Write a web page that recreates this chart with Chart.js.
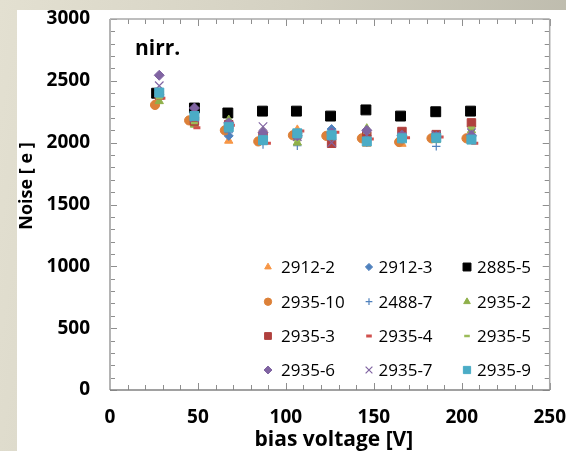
<!DOCTYPE html>
<html>
<head>
<meta charset="utf-8">
<title>Noise vs bias voltage</title>
<script src="https://cdn.jsdelivr.net/npm/chart.js@4.4.1/dist/chart.umd.min.js"></script>
<style>
  html, body { margin: 0; padding: 0; }
  body {
    width: 566px; height: 451px; overflow: hidden; position: relative;
    background: linear-gradient(100deg, #e3e0d1 0%, #d4d1c2 45%, #b9b7a9 100%);
  }
  .panel { position: absolute; left: 17px; top: 10px; width: 549px; height: 441px; background: #fff; }
</style>
</head>
<body>
<div class="panel"><canvas id="noiseChart" width="549" height="441"></canvas></div>
<script>
// sample names, in legend order
const sampleNames = ['2912-2', '2912-3', '2885-5', '2935-10', '2488-7', '2935-2',
                     '2935-3', '2935-4', '2935-5', '2935-6', '2935-7', '2935-9'];

// bias voltage [V]
const biasVoltage   = [28, 48, 67.5, 87, 106.5, 126, 146, 166, 185.5, 205.5];
const bias_2885_5   = [26.5, 48, 67, 86.7, 106, 125.4, 145.5, 165.2, 185.2, 205];
const bias_2935_10  = [25.6, 45, 65.3, 84.3, 104, 123, 143.2, 164.4, 182.8, 202.7];
const bias_2935_4   = [29.5, 49.4, 69, 89.5, 108.5, 128.4, 148, 168.6, 187.7, 207.4];

// noise [e]
const noise_2912_2  = [2385, 2150, 2015, 2005, 2105, 2060, 1990, 1990, 2030, 2045];
const noise_2912_3  = [2390, 2200, 2055, 2045, 2075, 2110, 2060, 2040, 2045, 2050];
const noise_2885_5  = [2400, 2280, 2240, 2255, 2255, 2215, 2265, 2215, 2250, 2255];
const noise_2935_10 = [2305, 2180, 2100, 2010, 2060, 2055, 2035, 2005, 2035, 2035];
const noise_2488_7  = [2390, 2190, 2080, 1985, 1975, 2040, 2000, 2030, 1970, 2040];
const noise_2935_2  = [2335, 2145, 2185, 2090, 2000, 2050, 2115, 2030, 2020, 2100];
const noise_2935_3  = [2385, 2175, 2145, 2055, 2070, 1995, 2055, 2090, 2065, 2160];
const noise_2935_4  = [2360, 2120, 2140, 1995, 2095, 2085, 2030, 2040, 2045, 1995];
const noise_2935_5  = [2360, 2160, 2160, 2060, 2020, 2040, 2080, 2030, 2020, 2120];
const noise_2935_6  = [2545, 2280, 2160, 2080, 2055, 2080, 2100, 2060, 2050, 2060];
const noise_2935_7  = [2460, 2200, 2120, 2130, 2050, 2000, 2060, 2050, 2060, 2080];
const noise_2935_9  = [2405, 2215, 2125, 2020, 2075, 2060, 2010, 2035, 2040, 2025];

const seriesX = [biasVoltage, biasVoltage, bias_2885_5, bias_2935_10, biasVoltage, biasVoltage,
                 biasVoltage, bias_2935_4, biasVoltage, biasVoltage, biasVoltage, biasVoltage];
const seriesY = [noise_2912_2, noise_2912_3, noise_2885_5, noise_2935_10, noise_2488_7, noise_2935_2,
                 noise_2935_3, noise_2935_4, noise_2935_5, noise_2935_6, noise_2935_7, noise_2935_9];

// axis ticks
const xTickLabels = [0, 50, 100, 150, 200, 250];
const yTickLabels = [0, 500, 1000, 1500, 2000, 2500, 3000];

// marker look per series
const markers = [
  { style: 'triangle', color: '#f79646', r: 4.8, bw: 1 },
  { style: 'rectRot',  color: '#4f81bd', r: 4.5, bw: 1 },
  { style: 'rect',     color: '#000000', r: 7,   bw: 1 },
  { style: 'circle',   color: '#dc8038', r: 4.6, bw: 1 },
  { style: 'cross',    color: '#4f81bd', r: 4.2, bw: 1.2 },
  { style: 'triangle', color: '#8fb04a', r: 4.8, bw: 1 },
  { style: 'rect',     color: '#b0403e', r: 6,   bw: 1 },
  { style: 'line',     color: '#d0504d', r: 3.5, bw: 3 },
  { style: 'line',     color: '#9bbb59', r: 3.5, bw: 2.5 },
  { style: 'rectRot',  color: '#8064a2', r: 5,   bw: 1 },
  { style: 'crossRot', color: '#8064a2', r: 6,   bw: 1.2 },
  { style: 'rect',     color: '#4bacc6', r: 6.4, bw: 1 }
];

const FONT = '"Open Sans", "DejaVu Sans", sans-serif';

const datasets = sampleNames.map((name, i) => ({
  label: name,
  data: seriesX[i].map((v, k) => ({ x: v, y: seriesY[i][k] })),
  showLine: false,
  pointStyle: markers[i].style,
  pointRadius: markers[i].r,
  pointBorderWidth: markers[i].bw,
  backgroundColor: markers[i].color,
  borderColor: markers[i].color,
  order: sampleNames.length - i   // later series on top
}));

// box frame with inward tick marks on all four sides
const frameTicks = {
  id: 'frameTicks',
  beforeDatasetsDraw(chart) {
    const { ctx, chartArea: a, scales: { x, y } } = chart;
    const seg = (x1, y1, x2, y2) => { ctx.beginPath(); ctx.moveTo(x1, y1); ctx.lineTo(x2, y2); ctx.stroke(); };
    ctx.save();
    ctx.lineWidth = 1;
    ctx.strokeStyle = '#8e8e8e';
    for (let v = 0; v <= 250; v += 10) {
      const px = Math.round(x.getPixelForValue(v)) + 0.5;
      const len = v % 50 === 0 ? 7 : 5;
      seg(px, a.bottom, px, a.bottom - len);
      seg(px, a.top, px, a.top + len);
    }
    for (let v = 0; v <= 3000; v += 100) {
      const py = Math.round(y.getPixelForValue(v)) + 0.5;
      const len = v % 500 === 0 ? 7 : 5;
      seg(a.left, py, a.left + len, py);
      seg(a.right, py, a.right - len, py);
    }
    // frame lines
    ctx.strokeStyle = '#a8a8a8';
    ctx.lineWidth = 1.5;
    seg(a.left, a.top, a.right, a.top);
    seg(a.right, a.top, a.right, a.bottom);
    ctx.strokeStyle = '#b4b4b4';
    ctx.lineWidth = 2;
    seg(a.left, a.top, a.left, a.bottom);
    ctx.strokeStyle = '#828282';
    ctx.lineWidth = 1.3;
    seg(a.left, a.bottom, a.right, a.bottom);
    ctx.restore();
  }
};

// axis titles and the "nirr." note
const annotations = {
  id: 'annotations',
  afterDraw(chart) {
    const { ctx, chartArea: a } = chart;
    ctx.save();
    ctx.fillStyle = '#000';
    ctx.font = 'bold 21px ' + FONT;
    ctx.textAlign = 'left';
    ctx.textBaseline = 'alphabetic';
    ctx.fillText('nirr.', a.left + 25, a.top + 36);

    ctx.font = 'bold 21px ' + FONT;
    ctx.textAlign = 'center';
    ctx.fillText('bias voltage [V]', (a.left + a.right) / 2 + 4, a.bottom + 56);

    ctx.font = 'bold 18px ' + FONT;
    ctx.translate(a.left - 83, a.top + 167);
    ctx.rotate(-Math.PI / 2);
    ctx.textBaseline = 'middle';
    ctx.fillText('Noise [ e ]', 0, 0);
    ctx.restore();
  }
};

// 3-column legend inside the plot area
const legendColX = [158, 259, 357];
const legendTextX = [171, 268.5, 367];
const legendRowY = [248, 282.7, 317, 351];
const gridLegend = {
  id: 'gridLegend',
  afterDraw(chart) {
    const { ctx, chartArea: a } = chart;
    ctx.save();
    chart.data.datasets.forEach((ds, i) => {
      const col = i % 3, row = Math.floor(i / 3);
      const cy = a.top + legendRowY[row];
      ctx.fillStyle = ds.backgroundColor;
      ctx.strokeStyle = ds.borderColor;
      ctx.lineWidth = ds.pointBorderWidth;
      Chart.helpers.drawPoint(ctx, {
        pointStyle: ds.pointStyle,
        radius: ds.pointRadius * 0.8,
        borderWidth: ds.pointBorderWidth,
        rotation: 0
      }, a.left + legendColX[col], cy);
      ctx.fillStyle = '#000';
      ctx.font = '17px ' + FONT;
      ctx.textAlign = 'left';
      ctx.textBaseline = 'middle';
      ctx.fillText(ds.label, a.left + legendTextX[col], cy + 1);
    });
    ctx.restore();
  }
};

// plain numbers, no thousands separator
const plainLabel = v => String(v);

new Chart(document.getElementById('noiseChart'), {
  type: 'scatter',
  data: { datasets },
  options: {
    responsive: false,
    animation: false,
    layout: { padding: { top: 9, right: 16, left: 0, bottom: 0 } },
    plugins: { legend: { display: false }, tooltip: { enabled: false } },
    scales: {
      x: {
        type: 'linear', min: 0, max: 250,
        // tick marks are drawn by frameTicks; tickLength only spaces the labels
        grid: { display: false, drawTicks: true, tickLength: 18 },
        border: { display: false },
        afterBuildTicks: s => { s.ticks = xTickLabels.map(v => ({ value: v })); },
        afterFit: s => { s.height = 61; },
        ticks: {
          color: '#000', padding: 0, maxRotation: 0, autoSkip: false, callback: plainLabel,
          font: { family: FONT, size: 19, weight: 'bold', lineHeight: 1 }
        }
      },
      y: {
        type: 'linear', min: 0, max: 3000,
        grid: { display: false, drawTicks: true, tickLength: 20 },
        border: { display: false },
        afterBuildTicks: s => { s.ticks = yTickLabels.map(v => ({ value: v })); },
        afterFit: s => { s.width = 93; },
        ticks: {
          color: '#000', padding: 0, autoSkip: false, callback: plainLabel,
          font: { family: FONT, size: 19, weight: 'bold', lineHeight: 0.9 }
        }
      }
    }
  },
  plugins: [frameTicks, annotations, gridLegend]
});
</script>
</body>
</html>
